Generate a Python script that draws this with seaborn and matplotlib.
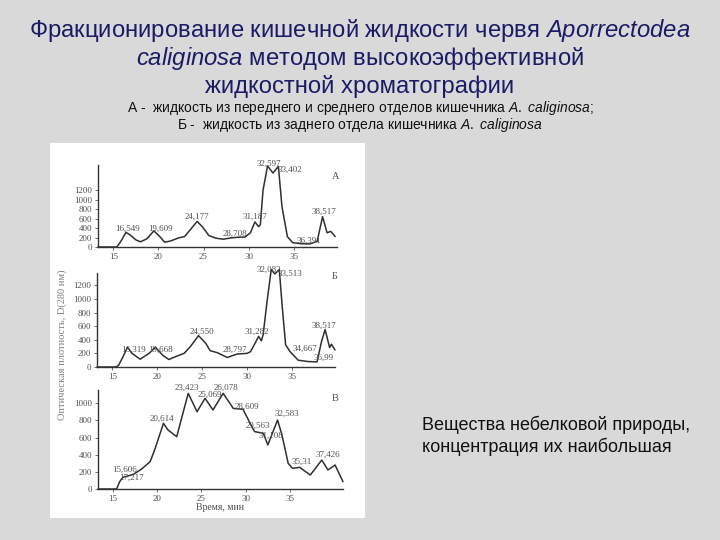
import matplotlib
matplotlib.use("Agg")
import matplotlib.pyplot as plt
import seaborn as sns
import pandas as pd
from matplotlib.patches import Rectangle

sns.set_theme(style="white")
plt.rcParams["font.family"] = ["Liberation Sans", "DejaVu Sans"]
plt.rcParams["mathtext.fontset"] = "custom"
plt.rcParams["mathtext.it"] = "Liberation Sans:italic"
plt.rcParams["mathtext.rm"] = "Liberation Sans"

# ---------------- data (time, min ; optical density) ----------------
a_time = [13.3, 15.4, 15.9, 16.4, 16.9, 17.5, 18.0, 18.7, 19.5, 20.1, 20.7, 21.4, 22.2, 22.9,
          23.6, 24.3, 24.9, 25.6, 26.4, 27.2, 28.0, 28.7, 29.6, 30.2, 30.7, 31.1, 31.3, 31.6,
          32.1, 32.7, 33.3, 33.7, 34.3, 34.9, 35.8, 36.8, 37.6, 38.2, 38.7, 39.1, 39.6]
a_val = [0, 0, 140, 310, 250, 150, 110, 170, 340, 230, 100, 130, 190, 220,
         380, 540, 420, 240, 185, 165, 190, 205, 210, 300, 530, 430, 470, 1200,
         1710, 1560, 1700, 850, 217, 90, 70, 65, 120, 640, 300, 330, 220]

b_time = [13.3, 15.4, 15.7, 16.1, 16.7, 17.2, 18.1, 19.1, 19.8, 20.6, 21.3, 22.0, 23.0, 23.7,
          24.6, 25.4, 25.9, 26.7, 27.8, 28.9, 30.0, 30.4, 31.3, 31.6, 31.8, 32.2, 32.7, 33.1,
          33.6, 33.9, 34.3, 34.8, 35.7, 36.8, 37.8, 38.3, 38.7, 39.2, 39.4, 39.8]
b_val = [0, 0, 25, 125, 290, 200, 115, 200, 290, 175, 110, 150, 200, 300,
         460, 350, 240, 210, 140, 190, 200, 225, 450, 385, 475, 925, 1430, 1365,
         1430, 925, 325, 225, 100, 80, 75, 375, 550, 285, 335, 250]

c_time = [13.3, 15.4, 15.75, 16.1, 16.7, 17.3, 18.2, 19.2, 19.7, 20.7, 21.2, 22.2, 22.9, 23.5,
          24.5, 25.4, 26.3, 27.45, 28.6, 29.7, 30.5, 31.0, 32.0, 32.5, 33.6, 34.1, 34.8, 35.3,
          36.1, 37.3, 38.6, 39.3, 40.1, 41.0]
c_val = [0, 0, 85, 136, 152, 171, 230, 320, 455, 766, 690, 610, 883, 1116,
         902, 1058, 922, 1116, 940, 930, 766, 670, 650, 513, 805, 630, 300, 241,
         253, 163, 338, 222, 280, 85]

x_ticks = [15, 20, 25, 30, 35]
a_yticks = [0, 200, 400, 600, 800, 1000, 1200]
b_yticks = [0, 200, 400, 600, 800, 1000, 1200]
c_yticks = [0, 200, 400, 600, 800, 1000]

# peak labels: text, time, level where the label sits
a_lbl = ["16,549", "19,609", "24,177", "28,708", "31,187", "32,597", "33,402", "36,391", "38,517"]
a_lt = [16.55, 20.2, 24.25, 28.5, 30.75, 32.2, 34.6, 36.7, 38.4]
a_lv = [378, 378, 630, 273, 630, 1750, 1638, 133, 749]

b_lbl = ["16,319", "19,668", "24,550", "28,797", "31,282", "32,082", "33,513", "34,667", "36,99", "38,517"]
b_lt = [17.4, 20.4, 25.0, 28.7, 31.1, 32.4, 34.8, 36.5, 38.5, 38.6]
b_lv = [255, 255, 515, 255, 515, 1431, 1372, 270, 137, 612]

c_lbl = ["15,606", "17,217", "20,614", "23,423", "25,069", "26,078", "28,609", "29,563",
         "31,108", "32,583", "35,31", "37,426"]
c_lt = [16.3, 17.1, 20.5, 23.3, 25.9, 27.8, 30.1, 31.4, 32.9, 34.6, 36.3, 39.3]
c_lv = [222, 136, 817, 1175, 1097, 1186, 961, 735, 618, 883, 319, 397]

panel_letters = ["А", "Б", "В"]

title_lines = [
    "Фракционирование кишечной жидкости червя $\\mathit{Aporrectodea}$",
    "$\\mathit{caliginosa}$ методом высокоэффективной",
    "жидкостной хроматографии",
]
subtitle_lines = [
    "А -  жидкость из переднего и среднего отделов кишечника $\\mathit{A.}$ $\\mathit{caliginosa}$;",
    "Б -  жидкость из заднего отдела кишечника $\\mathit{A.}$ $\\mathit{caliginosa}$",
]
note_text = "Вещества небелковой природы,\nконцентрация их наибольшая"
y_label = "Оптическая плотность, D(280 нм)"
x_label = "Время, мин"

# ---------------- figure ----------------
W, H = 720, 540
fig = plt.figure(figsize=(7.2, 5.4), dpi=100)
fig.patch.set_facecolor("#d9d9d9")


def fbox(l, t, r, b):
    return [l / W, 1 - b / H, (r - l) / W, (b - t) / H]


fig.patches.append(Rectangle((50 / W, 1 - 518 / H), 315 / W, 375 / H,
                             transform=fig.transFigure, facecolor="white",
                             edgecolor="none", zorder=-5))

curve_col = "#303030"
txt_col = "#505050"
serif = ["Liberation Serif", "DejaVu Serif"]

panels = [
    (fbox(98, 165, 337, 247), (13.3, 39.8), 1730, a_time, a_val, a_yticks, a_lbl, a_lt, a_lv, (39.6, 1484)),
    (fbox(97, 273, 335, 367), (13.3, 39.8), 1380, b_time, b_val, b_yticks, b_lbl, b_lt, b_lv, (39.8, 1323)),
    (fbox(98, 390, 343, 489), (13.3, 41.0), 1155, c_time, c_val, c_yticks, c_lbl, c_lt, c_lv, (40.1, 1058)),
]

axes = []
for i, (box, xl, ytop, t, v, yt, lbl, lt, lv, letter_pos) in enumerate(panels):
    ax = fig.add_axes(box)
    ax.set_facecolor("none")
    ax.set_zorder(2)
    df = pd.DataFrame({"t": t, "v": v})
    sns.lineplot(data=df, x="t", y="v", ax=ax, sort=False, estimator=None,
                 color=curve_col, linewidth=1.1)
    for ln in ax.lines:
        ln.set_clip_on(False)
    ax.set_xlim(*xl)
    ax.set_ylim(0, ytop)
    ax.set_xticks(x_ticks)
    ax.set_yticks(yt)
    ax.set_xlabel("")
    ax.set_ylabel("")
    for s in ["top", "right"]:
        ax.spines[s].set_visible(False)
    for s in ["left", "bottom"]:
        ax.spines[s].set_color("#333333")
        ax.spines[s].set_linewidth(1.0)
    ax.tick_params(axis="both", length=2, width=0.6, pad=2, labelsize=6.5,
                   labelcolor=txt_col, colors="#555555", bottom=True, left=True)
    for tl in ax.get_xticklabels() + ax.get_yticklabels():
        tl.set_family(serif)
    for s, x, y in zip(lbl, lt, lv):
        ax.text(x, y, s, ha="center", va="center", fontsize=6.5, color=txt_col,
                family=serif, clip_on=False)
    ax.text(letter_pos[0], letter_pos[1], panel_letters[i], ha="center", va="center",
            fontsize=7.5, color=txt_col, family=serif)
    axes.append(ax)

fig.text(220 / W, 1 - 507 / H, x_label, ha="center", va="center", fontsize=7,
         color=txt_col, family=serif)
fig.text(62 / W, 1 - 345 / H, y_label, ha="center", va="center", fontsize=7.5,
         color="#808080", rotation=90, family=serif)

title_y = [30, 58, 86]
for s, y in zip(title_lines, title_y):
    fig.text(0.5, 1 - y / H, s, ha="center", va="center", fontsize=17.2, color="#1b1b66")
sub_y = [108, 125]
for s, y in zip(subtitle_lines, sub_y):
    fig.text(0.5, 1 - y / H, s, ha="center", va="center", fontsize=10, color="#111111")

fig.text(422 / W, 1 - 436 / H, note_text, ha="left", va="center", fontsize=13,
         color="#111111", linespacing=1.3)

fig.savefig("out.png", dpi=100, facecolor=fig.get_facecolor())
